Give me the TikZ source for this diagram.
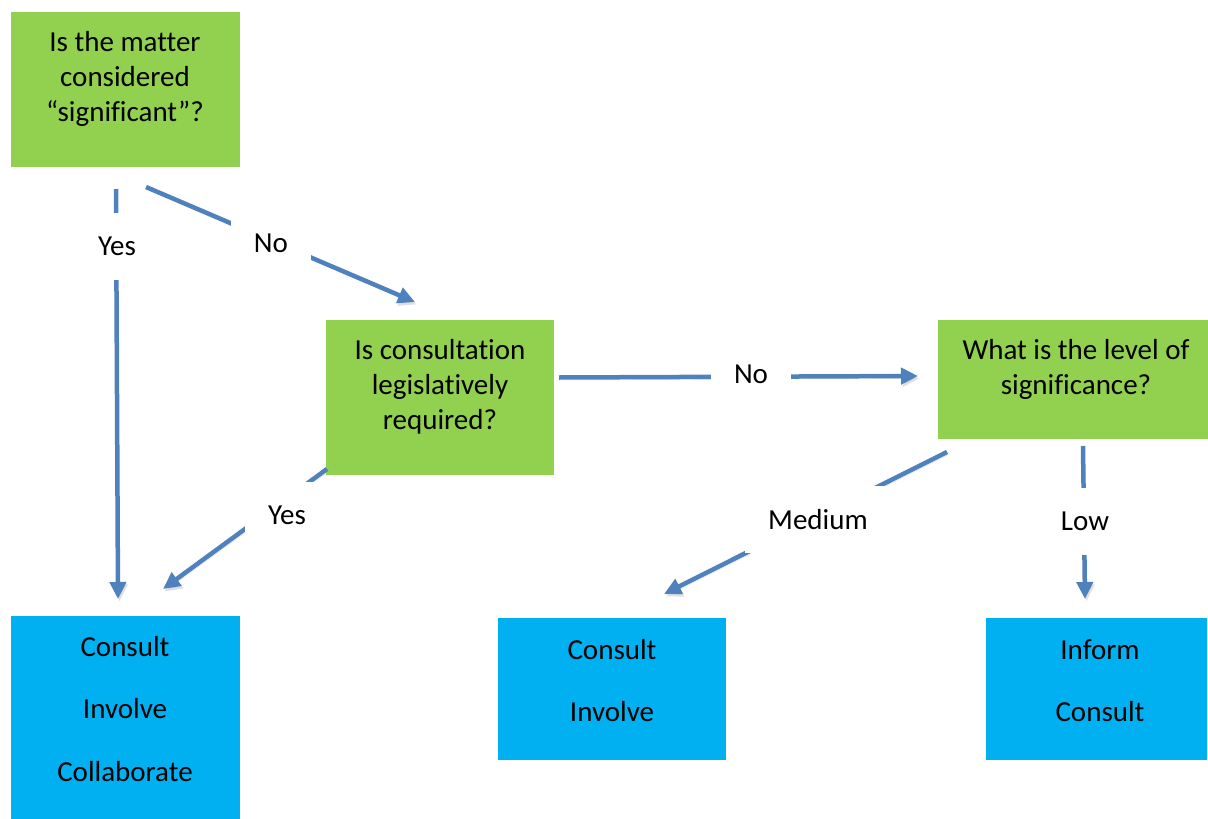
\documentclass[tikz,border=0pt]{standalone}
\usepackage{fontspec}
\setmainfont{Carlito}[Ligatures={NoCommon}]
\usetikzlibrary{arrows.meta}
\definecolor{qgreen}{HTML}{92D050}
\definecolor{ablue}{HTML}{00B0F0}
\definecolor{lineblue}{HTML}{4F81BD}
\begin{document}
\begin{tikzpicture}[x=1pt,y=-1pt,
  gbox/.style={fill=qgreen, draw=none, inner sep=0pt},
  bbox/.style={fill=ablue, draw=none, inner sep=0pt},
  txt/.style={align=center, inner sep=0pt, font=\fontsize{29}{35}\selectfont},
  btxt/.style={align=center, inner sep=0pt, font=\fontsize{29}{62.5}\selectfont},
  lab/.style={fill=white, inner xsep=23pt, inner ysep=0pt, minimum height=67pt, font=\fontsize{29}{35}\selectfont},
  conn/.style={draw=lineblue, line width=4.5pt, -{Triangle[length=17pt,width=16pt]},
    preaction={draw=black!35, opacity=0.35, transform canvas={shift={(1.5pt,-2.5pt)}}}}
]
\useasboundingbox (0,0) rectangle (1208,819);
% boxes
\node[gbox, minimum width=229pt, minimum height=155pt] (q1) at (125.5,89.5) {};
\node[gbox, minimum width=228pt, minimum height=155pt] (q2) at (440,397.5) {};
\node[gbox, minimum width=270pt, minimum height=119pt] (q3) at (1073,379.5) {};
\node[bbox, minimum width=229pt, minimum height=203pt] (a1) at (125.5,717.5) {};
\node[bbox, minimum width=228pt, minimum height=142pt] (a2) at (612,689) {};
\node[bbox, minimum width=221pt, minimum height=142pt] (a3) at (1096.5,689) {};
% texts
\node[txt] (t1) at (125,79) {Is the matter\\considered\\“significant”?};
\node[txt] (t2) at (440,387) {Is consultation\\legislatively\\required?};
\node[txt] (t3) at (1076,369) {What is the level of\\significance?};
\node[btxt] (t4) at (125,709) {Consult\\Involve\\Collaborate};
\node[btxt] (t5) at (612,680.5) {Consult\\Involve};
\node[btxt] (t6) at (1100,680.5) {Inform\\Consult};
% connector ends
\coordinate (c1s) at (116,189);
\coordinate (c1e) at (118,599);
\coordinate (c2s) at (146,187);
\coordinate (c2e) at (415,302);
\coordinate (c3s) at (327,469);
\coordinate (c3e) at (163,589);
\coordinate (c4s) at (559,377.5);
\coordinate (c4e) at (918,376);
\coordinate (c5s) at (947,452);
\coordinate (c5e) at (664,594);
\coordinate (c6s) at (1083,446);
\coordinate (c6e) at (1085,599);
% connectors
\draw[conn] (c1s) -- (c1e);
\draw[conn] (c2s) -- (c2e);
\draw[conn] (c3s) -- (c3e);
\draw[conn] (c4s) -- (c4e);
\draw[conn] (c5s) -- (c5e);
\draw[conn] (c6s) -- (c6e);
% labels
\node[lab] (l1) at (117,246) {Yes};
\node[lab] (l2) at (271,243) {No};
\node[lab] (l3) at (287,515.5) {Yes};
\node[lab] (l4) at (751,374) {No};
\node[lab] (l5) at (818,519.5) {Medium};
\node[lab] (l6) at (1085,521.5) {Low};
\end{tikzpicture}
\end{document}
